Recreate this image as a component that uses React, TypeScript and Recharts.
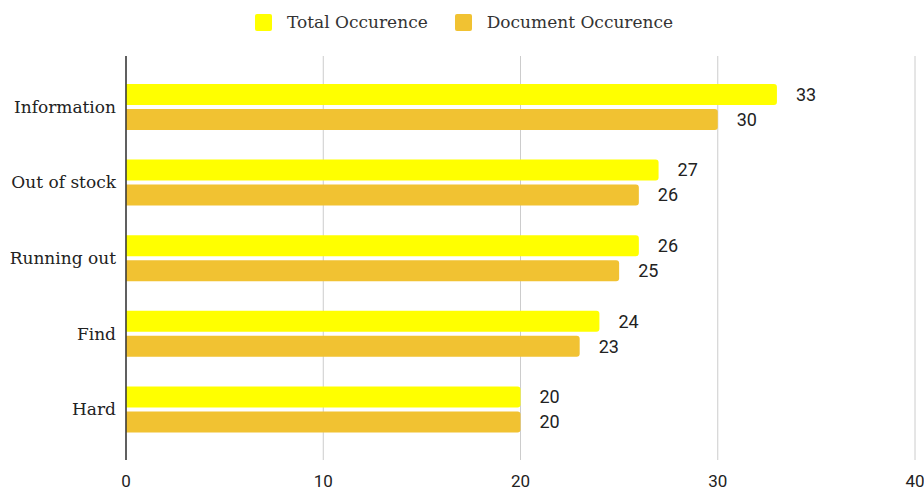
import { BarChart, Bar, XAxis, YAxis, CartesianGrid, LabelList } from 'recharts'

const categories = ['Information', 'Out of stock', 'Running out', 'Find', 'Hard']
const totalOccurence = [33, 27, 26, 24, 20]
const documentOccurence = [30, 26, 25, 23, 20]
const xTicks = [0, 10, 20, 30, 40]

const YELLOW = '#FFFF00'
const GOLD = '#F1C232'
const SERIF = '"DejaVu Serif", Georgia, serif'
const SANS = 'Roboto, Arial, sans-serif'

const data = categories.map((name, i) => ({
    name,
    total: totalOccurence[i],
    doc: documentOccurence[i],
}))

// legend drawn as plain html above the plot
const LegendItem = ({ color, label }: { color: string; label: string }) => (
    <div style={{ display: 'flex', alignItems: 'center', marginRight: 27 }}>
        <div style={{ width: 17, height: 17, background: color, borderRadius: 2, marginRight: 15 }} />
        <span style={{ fontFamily: SERIF, fontSize: 17, color: '#333', whiteSpace: 'nowrap' }}>{label}</span>
    </div>
)

export default function App() {
    return (
        <div style={{ position: 'fixed', left: 0, top: 0, width: 924, height: 493, background: '#fff', overflow: 'hidden' }}>
            <div style={{ position: 'absolute', left: 255, top: 13, display: 'flex', height: 18 }}>
                <LegendItem color={YELLOW} label="Total Occurence" />
                <LegendItem color={GOLD} label="Document Occurence" />
            </div>
            <BarChart
                width={924}
                height={493}
                data={data}
                layout="vertical"
                margin={{ top: 56, right: 9, bottom: 3, left: 0 }}
                barSize={21}
                barGap={4}
            >
                <CartesianGrid horizontal={false} stroke="#CCCCCC" />
                <XAxis
                    type="number"
                    domain={[0, 40]}
                    ticks={xTicks}
                    axisLine={false}
                    tickLine={false}
                    height={30}
                    interval={0}
                    tick={{ fontSize: 17, fill: '#222', fontFamily: SANS, dy: 7 }}
                />
                <YAxis
                    type="category"
                    dataKey="name"
                    width={126}
                    padding={{ top: 13, bottom: 13 }}
                    axisLine={{ stroke: '#333', strokeWidth: 1.5 }}
                    tickLine={false}
                    tickMargin={4}
                    tick={{ fontSize: 17, fill: '#222', fontFamily: SERIF }}
                />
                <Bar dataKey="total" fill={YELLOW} radius={[0, 3, 3, 0]} isAnimationActive={false}>
                    <LabelList dataKey="total" position="right" offset={19} style={{ fontSize: 18, fill: '#222', fontFamily: SANS }} />
                </Bar>
                <Bar dataKey="doc" fill={GOLD} radius={[0, 3, 3, 0]} isAnimationActive={false}>
                    <LabelList dataKey="doc" position="right" offset={19} style={{ fontSize: 18, fill: '#222', fontFamily: SANS }} />
                </Bar>
            </BarChart>
        </div>
    )
}
